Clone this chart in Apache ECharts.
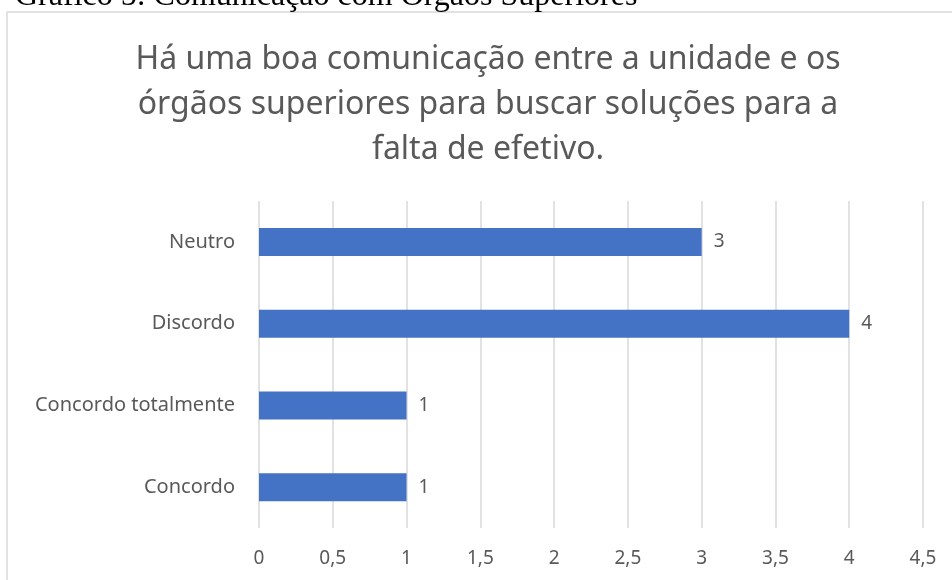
<!DOCTYPE html>
<html>
<head>
    <meta charset="utf-8">
    <title>Gráfico 5</title>
    <script src="https://cdn.jsdelivr.net/npm/echarts@6/dist/echarts.min.js"></script>
    <style>
        html, body { margin: 0; padding: 0; background: #fff; }
    </style>
</head>
<body>
<div id="main" style="width: 952px;height:580px;"></div>
<script type="text/javascript">
    // dados
    var categorias = ['Concordo', 'Concordo totalmente', 'Discordo', 'Neutro'];
    var respostas = [1, 1, 4, 3];
    var ticks = [0, 0.5, 1, 1.5, 2, 2.5, 3, 3.5, 4, 4.5];

    var cinza = '#595959';
    var myChart = echarts.init(document.getElementById('main'));

    var option = {
        animation: false,
        graphic: [
            { // moldura do gráfico
                type: 'rect',
                shape: { x: 7, y: 12, width: 980, height: 600 },
                style: { fill: 'none', stroke: '#d9d9d9', lineWidth: 1.5 }
            },
            { // legenda do documento (cortada em cima)
                type: 'text',
                x: 15, y: -3,
                style: {
                    text: 'Gráfico 5: Comunicação com Órgãos Superiores',
                    font: '32px "Liberation Serif"',
                    fill: '#000',
                    verticalAlign: 'middle'
                }
            },
            {
                type: 'text',
                x: 488, y: 37,
                style: {
                    text: 'Há uma boa comunicação entre a unidade e os\nórgãos superiores para buscar soluções para a\nfalta de efetivo.',
                    font: '32px "Noto Sans"',
                    fill: cinza,
                    align: 'center',
                    lineHeight: 45
                }
            }
        ],
        grid: {
            left: 259,
            right: 29,
            top: 201,
            bottom: 52
        },
        xAxis: {
            type: 'value',
            min: 0,
            max: 4.5,
            interval: 0.5,
            axisLine: { show: false },
            axisTick: { show: false },
            splitLine: { lineStyle: { color: '#d9d9d9', width: 1.5 } },
            axisLabel: {
                margin: 21,
                color: cinza,
                fontSize: 19,
                fontFamily: 'Noto Sans',
                formatter: function (v) { return String(v).replace('.', ','); }
            }
        },
        yAxis: {
            type: 'category',
            data: categorias,
            axisLine: { show: false },
            axisTick: { show: false },
            axisLabel: {
                margin: 24,
                color: cinza,
                fontSize: 20,
                fontFamily: 'Noto Sans'
            }
        },
        series: [{
            type: 'bar',
            data: respostas,
            barWidth: 28,
            itemStyle: { color: '#4472c4' },
            label: {
                show: true,
                position: 'right',
                distance: 12,
                color: cinza,
                fontSize: 19,
                fontFamily: 'Noto Sans'
            }
        }]
    };
    myChart.setOption(option);
</script>
</body>
</html>
